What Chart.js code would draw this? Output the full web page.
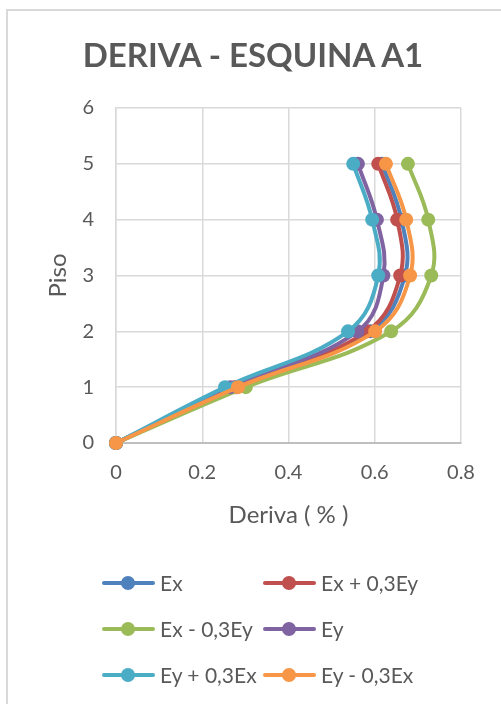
<!DOCTYPE html>
<html>
<head>
<meta charset="utf-8">
<script src="https://cdn.jsdelivr.net/npm/chart.js@4/dist/chart.umd.min.js"></script>
<style>
	body { margin: 0; background: #fff; font-family: Lato, sans-serif; }
	#wrap { position: relative; width: 501px; height: 704px; overflow: hidden; }
	#frame { position: absolute; left: 6px; top: 9px; width: 600px; height: 800px; border-left: 2px solid #d9d9d9; border-top: 2px solid #d9d9d9; }
	#title { position: absolute; left: 0; top: 34px; width: 506px; text-align: center; font: bold 33px Lato; color: #595959; line-height: 40px; }
	#chart { position: absolute; left: 0; top: 0; }
	.item { position: absolute; height: 24px; font: 21px Lato; color: #595959; line-height: 24px; white-space: nowrap; }
	.item .ln { position: absolute; left: 0; top: 10px; width: 53px; height: 4px; border-radius: 2px; }
	.item .dot { position: absolute; left: 19px; top: 5px; width: 14px; height: 14px; border-radius: 7px; }
	.item .txt { position: absolute; left: 58px; top: 0; }
</style>
</head>
<body>
<div id="wrap">
	<div id="frame"></div>
	<canvas id="chart" width="501" height="704"></canvas>
	<div id="title">DERIVA - ESQUINA A1</div>
	<div id="legend"></div>
</div>
<script>
var pisos = [0, 1, 2, 3, 4, 5];
var nombres = ['Ex', 'Ex + 0,3Ey', 'Ex - 0,3Ey', 'Ey', 'Ey + 0,3Ex', 'Ey - 0,3Ex'];
var colores = ['#4f81bd', '#c0504d', '#9bbb59', '#8064a2', '#4bacc6', '#f79646'];

var ex = [0, 0.280, 0.590, 0.670, 0.662, 0.617];
var exMas = [0, 0.275, 0.582, 0.659, 0.652, 0.608];
var exMenos = [0, 0.301, 0.638, 0.731, 0.724, 0.677];
var ey = [0, 0.265, 0.560, 0.620, 0.605, 0.561];
var eyMas = [0, 0.253, 0.538, 0.608, 0.594, 0.550];
var eyMenos = [0, 0.283, 0.601, 0.682, 0.673, 0.626];
var series = [ex, exMas, exMenos, ey, eyMas, eyMenos];

var datasets = series.map(function (s, i) {
	return {
		label: nombres[i],
		data: s.map(function (v, j) { return { x: v, y: pisos[j] }; }),
		showLine: true,
		borderColor: colores[i],
		backgroundColor: colores[i],
		borderWidth: 4,
		pointRadius: 7,
		pointBorderWidth: 0,
		tension: 0.4,
		clip: false,
		order: series.length - i
	};
});

new Chart(document.getElementById('chart').getContext('2d'), {
	type: 'scatter',
	data: { datasets: datasets },
	options: {
		responsive: false,
		animation: false,
		layout: { padding: { left: 44, right: 40, top: 108, bottom: 174 } },
		plugins: { legend: { display: false }, tooltip: { enabled: false } },
		scales: {
			x: {
				min: 0, max: 0.8,
				ticks: { stepSize: 0.2, padding: 18, color: '#595959', font: { family: 'Lato', size: 20 } },
				grid: { color: '#d9d9d9', lineWidth: 1.5, drawTicks: false },
				border: { color: '#bfbfbf', width: 2 },
				title: { display: true, text: 'Deriva ( % )', color: '#595959', padding: 0, font: { family: 'Lato', size: 24 } },
				afterFit: function (scale) { scale.height = 87; }
			},
			y: {
				min: 0, max: 6,
				ticks: { stepSize: 1, padding: 22, color: '#595959', font: { family: 'Lato', size: 20 } },
				grid: { color: '#d9d9d9', lineWidth: 1.5, drawTicks: false },
				border: { color: '#d9d9d9', width: 1.5 },
				title: { display: true, text: 'Piso', color: '#595959', padding: 0, font: { family: 'Lato', size: 24 } },
				afterFit: function (scale) { scale.width = 72; }
			}
		}
	}
});

// leyenda en dos columnas
var colX = [102, 263];
var filaY = [571, 617, 663];
var legend = document.getElementById('legend');
nombres.forEach(function (n, i) {
	var d = document.createElement('div');
	d.className = 'item';
	d.style.left = colX[i % 2] + 'px';
	d.style.top = filaY[Math.floor(i / 2)] + 'px';
	d.innerHTML = '<div class="ln" style="background:' + colores[i] + '"></div>' +
		'<div class="dot" style="background:' + colores[i] + '"></div>' +
		'<div class="txt">' + n + '</div>';
	legend.appendChild(d);
});
</script>
</body>
</html>
